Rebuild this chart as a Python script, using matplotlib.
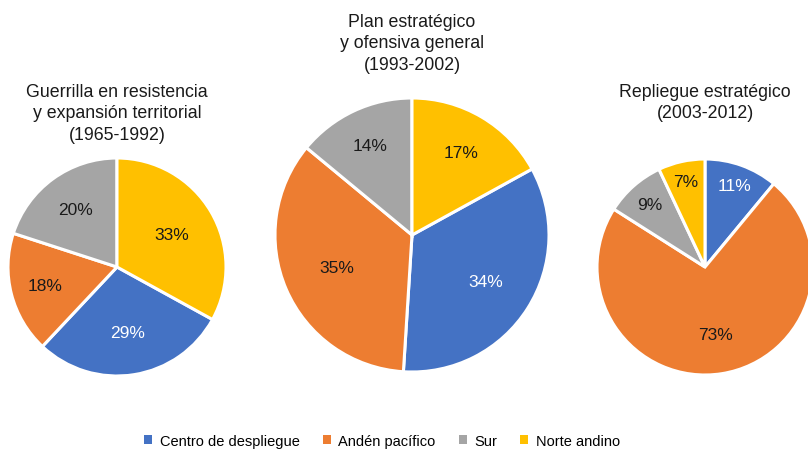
import matplotlib.pyplot as plt
from matplotlib.patches import Patch
import numpy as np

plt.rcParams['font.family'] = ['Liberation Sans', 'DejaVu Sans']

categorias = ['Centro de despliegue', 'Andén pacífico', 'Sur', 'Norte andino']
colores = ['#4472C4', '#ED7D31', '#A5A5A5', '#FFC000']

titulos = ['Guerrilla en resistencia\ny expansión territorial\n(1965-1992)',
           'Plan estratégico\ny ofensiva general\n(1993-2002)',
           'Repliegue estratégico\n(2003-2012)']

v_1965 = [29, 18, 20, 33]
v_1993 = [34, 35, 14, 17]
v_2003 = [11, 73, 9, 7]

W, H = 808, 452

# centro (px), radio (px), ángulo inicial, distancia de etiquetas, y del título
pies = [
    (v_1965, 117, 268, 109, 90 - 360 * 0.33, [0.61, 0.68, 0.65, 0.58], 84),
    (v_1993, 412, 236, 137, 90 - 360 * 0.17, [0.64, 0.60, 0.72, 0.70], 14),
    (v_2003, 705, 268, 108, 90, [0.80, 0.63, 0.77, 0.81], 84),
]

fig = plt.figure(figsize=(W / 100, H / 100), dpi=100)

for (vals, cx, cy, r, start, dists, ty), titulo in zip(pies, titulos):
    ax = fig.add_axes([(cx - r) / W, (H - cy - r) / H, 2 * r / W, 2 * r / H])
    wedges, _ = ax.pie(vals, colors=colores, startangle=start, counterclock=False,
                       wedgeprops=dict(edgecolor='white', linewidth=2.2))
    for w, v, d, c in zip(wedges, vals, dists, colores):
        ang = np.deg2rad((w.theta1 + w.theta2) / 2)
        col = 'white' if c == '#4472C4' else '#1a1a1a'
        ax.text(d * np.cos(ang), d * np.sin(ang), f'{v}%', ha='center', va='center',
                fontsize=12.5, color=col)
    ax.set_xlim(-1, 1)
    ax.set_ylim(-1, 1)
    ax.set_aspect('equal')
    ax.axis('off')
    fig.text(cx / W, 1 - ty / H, titulo, ha='center', va='top', fontsize=12.8,
             linespacing=1.34, color='#1a1a1a')

handles = [Patch(facecolor=c, edgecolor='none') for c in colores]
fig.legend(handles, categorias, loc='center', bbox_to_anchor=(382 / W, 1 - 442 / H),
           ncol=4, frameon=False, fontsize=10.5, handlelength=0.55, handleheight=0.55,
           handletextpad=0.5, columnspacing=1.6)

fig.savefig('out.png', dpi=100)
